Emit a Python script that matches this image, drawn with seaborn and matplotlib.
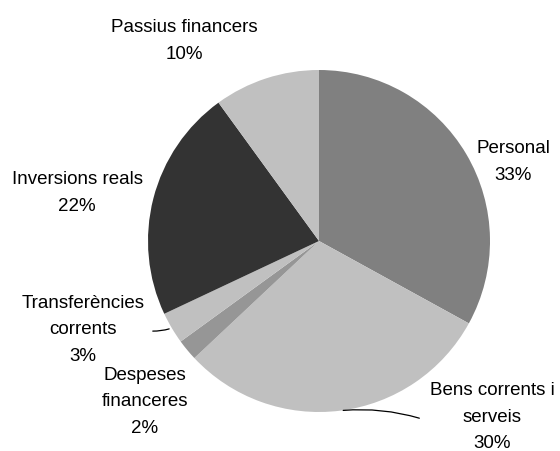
import numpy as np
import matplotlib
matplotlib.use("Agg")
import matplotlib.pyplot as plt
import seaborn as sns

# dades del pressupost (percentatges)
categories = ['Personal', 'Bens corrents i\nserveis', 'Despeses\nfinanceres',
              'Transferències\ncorrents', 'Inversions reals', 'Passius financers']
values = [33, 30, 2, 3, 22, 10]
colors = ['#808080', '#c0c0c0', '#969696', '#c0c0c0', '#333333', '#c0c0c0']

sns.set_style("white")
plt.rcParams['font.family'] = ['Liberation Sans', 'DejaVu Sans']

W, H = 560, 451
fig = plt.figure(figsize=(W / 100, H / 100), dpi=100)
ax = fig.add_axes([0, 0, 1, 1])
ax.set_aspect('equal')
ax.axis('off')

cx, cy, r = 319, H - 241, 171
ax.pie(values, colors=colors, startangle=90, counterclock=False,
       center=(cx, cy), radius=r, wedgeprops=dict(linewidth=0))
ax.set_xlim(0, W)
ax.set_ylim(0, H)

# posicions de les etiquetes (pixels de la imatge)
label_pos = [(513, 162), (492, 417), (145, 402), (83, 330), (77, 193), (184, 41)]
leader_end = {1: (422, 419), 3: (150, 331)}

total = sum(values)
cum = np.cumsum([0] + values)
for i, (cat, v) in enumerate(zip(categories, values)):
    x, y = label_pos[i]
    ax.text(x, H - y, f"{cat}\n{v}%", ha='center', va='center',
            fontsize=13.5, linespacing=1.7, color='black')
    if i in leader_end:
        mid = (cum[i] + cum[i + 1]) / 2 / total * 360
        ang = np.deg2rad(90 - mid)
        px, py = cx + r * np.cos(ang), cy + r * np.sin(ang)
        ex, ey = leader_end[i]
        ax.annotate('', xy=(px, py), xytext=(ex, H - ey),
                    arrowprops=dict(arrowstyle='-', color='black', lw=0.9,
                                    connectionstyle='arc3,rad=0.1'))

fig.savefig('out.png', dpi=100)
